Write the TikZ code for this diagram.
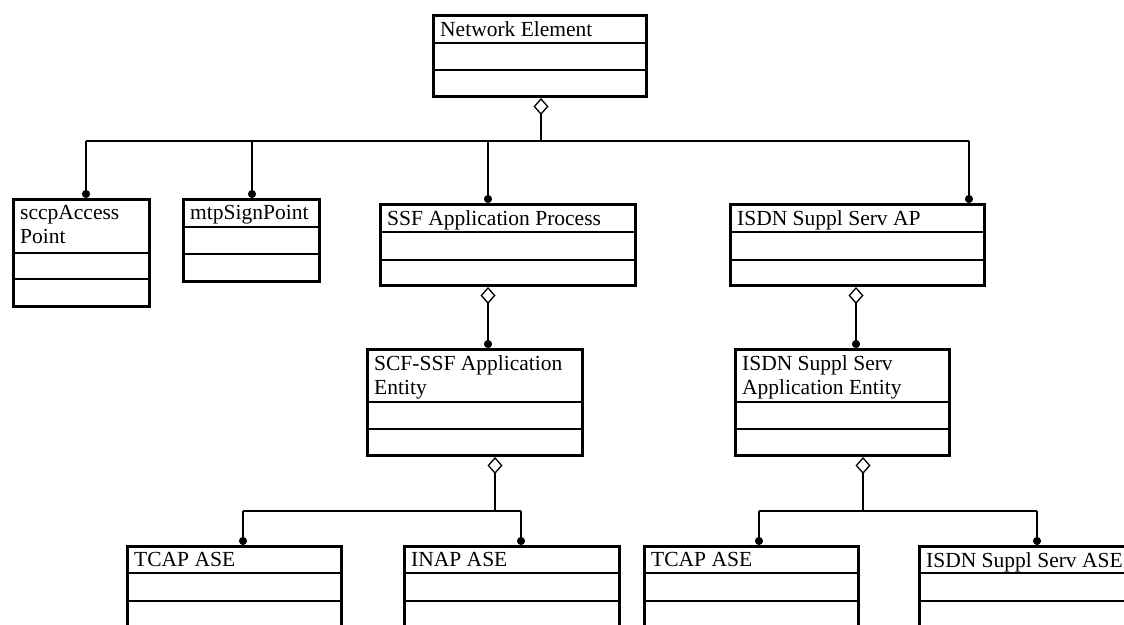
\documentclass[tikz,border=0pt]{standalone}
\usepackage{fontspec}
\setmainfont{Liberation Serif}
\usetikzlibrary{arrows.meta}

\begin{document}
\begin{tikzpicture}[x=1pt, y=-1pt]
\tikzset{ cls/.style={draw, line width=3pt, inner sep=0pt, fill=white},
          divline/.style={line width=2pt},
          title/.style={anchor=north west, inner sep=0pt, align=left,
                        font=\fontsize{21.5}{24}\selectfont},
          link/.style={line width=1.3pt},
          withdia/.style={link, {Diamond[open, length=17pt, width=15pt]}-},
          withdot/.style={link, -{Circle[length=8pt]}},
          both/.style={link, {Diamond[open, length=17pt, width=15pt]}-{Circle[length=8pt]}},
        }

\useasboundingbox (0,0) rectangle (1124,624);
\clip (0,0) rectangle (1124,624);

% classes
\node [cls, minimum width=213pt, minimum height=81pt]  (NE)    at (540,56)      {};
\node [cls, minimum width=136pt, minimum height=107pt] (SCCP)  at (81.5,253)    {};
\node [cls, minimum width=136pt, minimum height=82pt]  (MTP)   at (251.5,240.5) {};
\node [cls, minimum width=255pt, minimum height=81pt]  (SSF)   at (508,245)     {};
\node [cls, minimum width=254pt, minimum height=81pt]  (ISAP)  at (857.5,245)   {};
\node [cls, minimum width=215pt, minimum height=106pt] (SCF)   at (475,402.5)   {};
\node [cls, minimum width=214pt, minimum height=106pt] (ISAE)  at (842.5,402.5) {};
\node [cls, minimum width=214pt, minimum height=102pt] (TCA)   at (234.5,597.5) {};
\node [cls, minimum width=215pt, minimum height=102pt] (INAP)  at (512,597.5)   {};
\node [cls, minimum width=214pt, minimum height=102pt] (TCB)   at (751.5,597.5) {};
\node [cls, minimum width=215pt, minimum height=102pt] (ISASE) at (1027,597.5)  {};

\node [title] (NEt)    at ([shift={(8,7.5)}]NE.north west)    {Network Element};
\node [title] (SCCPt)  at ([shift={(8,7.5)}]SCCP.north west)  {sccpAccess\\Point};
\node [title] (MTPt)   at ([shift={(8,7.5)}]MTP.north west)   {mtpSignPoint};
\node [title] (SSFt)   at ([shift={(8,7.5)}]SSF.north west)   {SSF Application Process};
\node [title] (ISAPt)  at ([shift={(8,7.5)}]ISAP.north west)  {ISDN Suppl Serv AP};
\node [title] (SCFt)   at ([shift={(8,7.5)}]SCF.north west)   {SCF-SSF Application\\Entity};
\node [title] (ISAEt)  at ([shift={(8,7.5)}]ISAE.north west)  {ISDN Suppl Serv\\Application Entity};
\node [title] (TCAt)   at ([shift={(8,7.5)}]TCA.north west)   {TCAP ASE};
\node [title] (INAPt)  at ([shift={(8,7.5)}]INAP.north west)  {INAP ASE};
\node [title] (TCBt)   at ([shift={(8,7.5)}]TCB.north west)   {TCAP ASE};
\node [title] (ISASEt) at ([shift={(8,7.5)}]ISASE.north west) {ISDN Suppl Serv ASE};

% compartments
\draw [divline] (NE.west |- 0,43)    -- (NE.east |- 0,43);
\draw [divline] (NE.west |- 0,70)    -- (NE.east |- 0,70);
\draw [divline] (SCCP.west |- 0,253) -- (SCCP.east |- 0,253);
\draw [divline] (SCCP.west |- 0,279) -- (SCCP.east |- 0,279);
\draw [divline] (MTP.west |- 0,227)  -- (MTP.east |- 0,227);
\draw [divline] (MTP.west |- 0,254)  -- (MTP.east |- 0,254);
\draw [divline] (SSF.west |- 0,232)  -- (SSF.east |- 0,232);
\draw [divline] (SSF.west |- 0,260)  -- (SSF.east |- 0,260);
\draw [divline] (ISAP.west |- 0,232) -- (ISAP.east |- 0,232);
\draw [divline] (ISAP.west |- 0,260) -- (ISAP.east |- 0,260);
\draw [divline] (SCF.west |- 0,402)  -- (SCF.east |- 0,402);
\draw [divline] (SCF.west |- 0,429)  -- (SCF.east |- 0,429);
\draw [divline] (ISAE.west |- 0,402) -- (ISAE.east |- 0,402);
\draw [divline] (ISAE.west |- 0,429) -- (ISAE.east |- 0,429);
\foreach \c in {TCA, INAP, TCB, ISASE} {
  \draw [divline] (\c.west |- 0,573) -- (\c.east |- 0,573);
  \draw [divline] (\c.west |- 0,601) -- (\c.east |- 0,601);
}

% aggregations
\coordinate (T0) at (541,141);
\coordinate (T1) at (86,141);
\coordinate (T2) at (252,141);
\coordinate (T3) at (488,141);
\coordinate (T4) at (969,141);

\draw [withdia] (NE.south -| T0) -- (T0);
\draw [link] (T1) -- (T4);
\draw [withdot] (T1) -- (T1 |- SCCP.north);
\draw [withdot] (T2) -- (T2 |- MTP.north);
\draw [withdot] (T3) -- (T3 |- SSF.north);
\draw [withdot] (T4) -- (T4 |- ISAP.north);

\coordinate (M1) at (488,317);
\coordinate (M2) at (856,317);
\draw [both] (SSF.south -| M1)  -- (SCF.north -| M1);
\draw [both] (ISAP.south -| M2) -- (ISAE.north -| M2);

\coordinate (L0) at (495,511);
\coordinate (L1) at (243,511);
\coordinate (L2) at (521,511);
\draw [withdia] (SCF.south -| L0) -- (L0);
\draw [link] (L1) -- (L2);
\draw [withdot] (L1) -- (L1 |- TCA.north);
\draw [withdot] (L2) -- (L2 |- INAP.north);

\coordinate (R0) at (863,511);
\coordinate (R1) at (759,511);
\coordinate (R2) at (1037,511);
\draw [withdia] (ISAE.south -| R0) -- (R0);
\draw [link] (R1) -- (R2);
\draw [withdot] (R1) -- (R1 |- TCB.north);
\draw [withdot] (R2) -- (R2 |- ISASE.north);

\end{tikzpicture}
\end{document}
